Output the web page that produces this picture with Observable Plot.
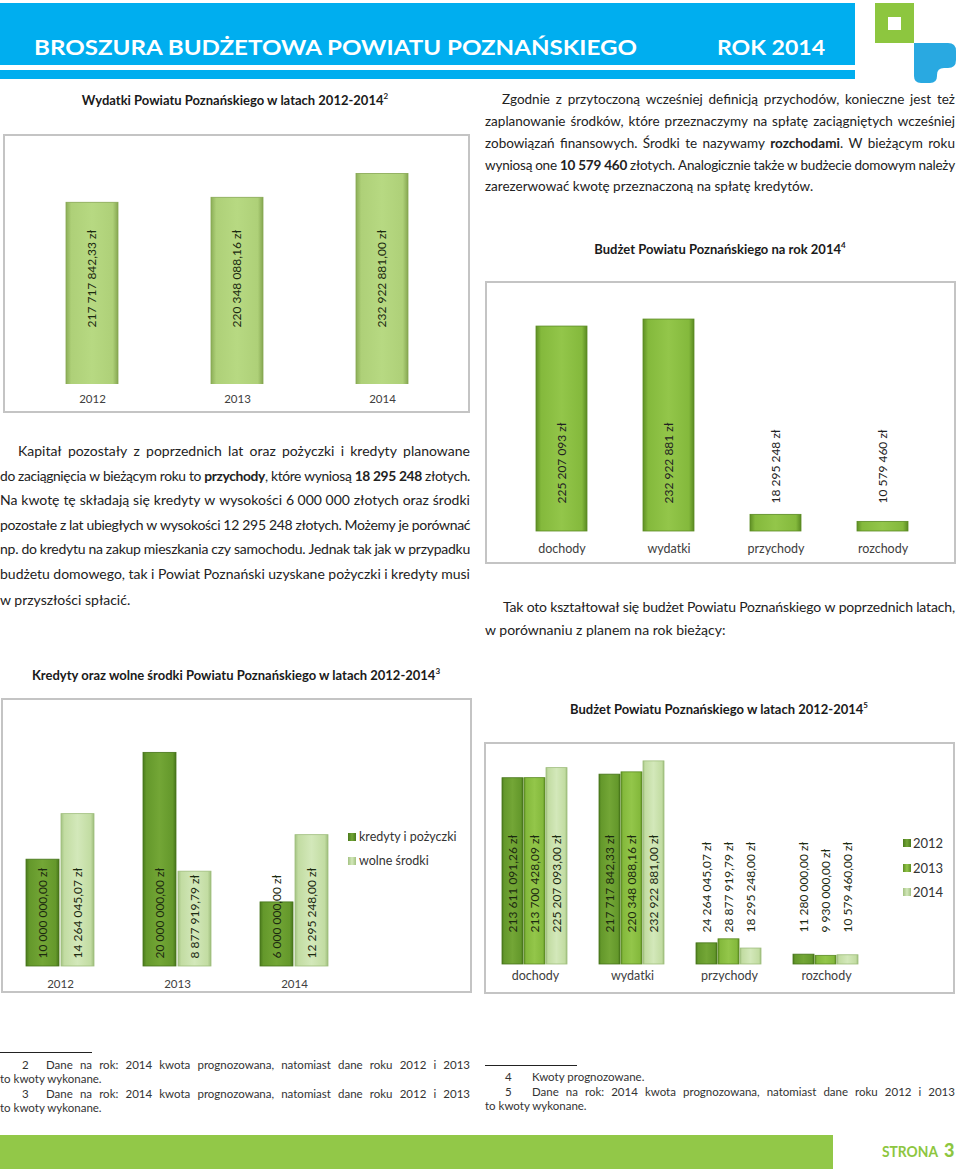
<!DOCTYPE html>
<html><head><meta charset="utf-8">
<script src="https://cdn.jsdelivr.net/npm/d3@7"></script>
<script src="https://cdn.jsdelivr.net/npm/@observablehq/plot@0.6"></script>
<style>
html,body{margin:0;padding:0;background:#fff;}
#page{position:relative;width:960px;height:1172px;overflow:hidden;font-family:Lato,"Noto Sans",sans-serif;color:#222;}
.abs{position:absolute;}
.ln{position:absolute;white-space:nowrap;box-sizing:border-box;}
.ln.j{display:flex;justify-content:space-between;column-gap:0.22em;}
.box{position:absolute;border:2px solid #c4c4c4;box-sizing:border-box;}
.ttl{position:absolute;width:480px;text-align:center;font-weight:bold;font-size:13px;line-height:18px;color:#1a1a1a;white-space:nowrap;}
.ttl sup{font-size:8px;vertical-align:6px;line-height:0;}
.lg{position:absolute;font-size:12.5px;line-height:16px;color:#333;white-space:nowrap;}
.sw{position:absolute;width:8px;height:8px;}
.plot{position:absolute;}
</style>
</head><body>
<div id="page"></div>
<script>
// ---------- DATA ----------
const years = ["2012", "2013", "2014"];
const wydatkiLata = [217717842.33, 220348088.16, 232922881.00];

const budzetKategorie = ["dochody", "wydatki", "przychody", "rozchody"];
const budzet2014 = [225207093, 232922881, 18295248, 10579460];

const kredytySerie = ["kredyty i pożyczki", "wolne środki"];
const kredyty = [10000000.00, 20000000.00, 6000000.00];
const wolneSrodki = [14264045.07, 8877919.79, 12295248.00];

const dochodyLata = [213611091.26, 213700428.09, 225207093.00];
const wydatkiLata4 = [217717842.33, 220348088.16, 232922881.00];
const przychodyLata = [24264045.07, 28877919.79, 18295248.00];
const rozchodyLata = [11280000.00, 9930000.00, 10579460.00];

// ---------- helpers ----------
const page = document.getElementById("page");
const pl = d3.formatLocale({decimal: ",", thousands: " ", grouping: [3], currency: ["", ""]});
const f2 = v => pl.format(",.2f")(v) + " zł";
const f0 = v => pl.format(",.0f")(v) + " zł";

function el(html) {
  const t = document.createElement("template");
  t.innerHTML = html.trim();
  const n = t.content.firstChild;
  page.appendChild(n);
  return n;
}

// gradients (defs shared by all charts)
el(`<svg class="abs" style="left:0;top:0" width="1" height="1"><defs>
<linearGradient id="gLight" x1="0" x2="1" y1="0" y2="0">
 <stop offset="0" stop-color="#8cae58"/><stop offset="0.1" stop-color="#aed078"/><stop offset="0.5" stop-color="#b7d982"/><stop offset="0.9" stop-color="#aed078"/><stop offset="1" stop-color="#86a752"/></linearGradient>
<linearGradient id="gBright" x1="0" x2="1" y1="0" y2="0">
 <stop offset="0" stop-color="#5f8f25"/><stop offset="0.1" stop-color="#84b93c"/><stop offset="0.5" stop-color="#93c64a"/><stop offset="0.9" stop-color="#84b93c"/><stop offset="1" stop-color="#5a8a22"/></linearGradient>
<linearGradient id="gDark" x1="0" x2="1" y1="0" y2="0">
 <stop offset="0" stop-color="#4a7a1c"/><stop offset="0.1" stop-color="#64982b"/><stop offset="0.5" stop-color="#73a636"/><stop offset="0.9" stop-color="#64982b"/><stop offset="1" stop-color="#46741a"/></linearGradient>
<linearGradient id="gPale" x1="0" x2="1" y1="0" y2="0">
 <stop offset="0" stop-color="#a3c282"/><stop offset="0.1" stop-color="#c2dca2"/><stop offset="0.5" stop-color="#d3e8ba"/><stop offset="0.9" stop-color="#c2dca2"/><stop offset="1" stop-color="#9ebd7c"/></linearGradient>
</defs></svg>`);

// ---------- header ----------
el(`<svg class="abs" style="left:0;top:0" width="960" height="92">
<rect x="0" y="3" width="855" height="62" fill="#00aeef"/>
<rect x="0" y="70" width="855" height="9" fill="#00aeef"/>
<text x="34" y="55" textLength="603" lengthAdjust="spacingAndGlyphs" font-family="Lato" font-weight="bold" font-size="20" fill="#fff">BROSZURA BUDŻETOWA POWIATU POZNAŃSKIEGO</text>
<text x="717" y="55" textLength="108" lengthAdjust="spacingAndGlyphs" font-family="Lato" font-weight="bold" font-size="20" fill="#fff">ROK 2014</text>
<rect x="875" y="3" width="39" height="40" fill="#8dc63f"/>
<rect x="888" y="17" width="13" height="13" fill="#fff"/>
<path d="M914,43 H948 Q956,43 956,51 V60 Q956,68 948,68 H944 Q937,68 937,75 V76 Q937,83 930,83 H921 Q914,83 914,76 Z" fill="#29a9e1"/>
</svg>`);

// ---------- text blocks ----------
function addLine(html, left, width, cy, lh, fs, opts = {}) {
  const indent = opts.indent || 0;
  let inner;
  if (opts.justify) {
    inner = html.split(" ").map(t => `<span>${t}</span>`).join("");
  } else inner = html;
  el(`<div class="ln${opts.justify ? " j" : ""}" style="left:${left}px;top:${cy - lh / 2}px;width:${width}px;height:${lh}px;line-height:${lh}px;font-size:${fs}px;padding-left:${indent}px;color:${opts.color || "#222"}">${inner}</div>`);
}

const trLines = [
  ["Zgodnie z przytoczoną wcześniej definicją przychodów, konieczne jest też", 99, 17, true],
  ["zaplanowanie środków, które przeznaczymy na spłatę zaciągniętych wcześniej", 121, 0, true],
  ["zobowiązań finansowych. Środki te nazywamy <b>rozchodami</b>. W bieżącym roku", 143, 0, true],
  ["wyniosą one <b>10&nbsp;579&nbsp;460</b> złotych. Analogicznie także w budżecie domowym należy", 164.5, 0, true],
  ["zarezerwować kwotę przeznaczoną na spłatę kredytów.", 186, 0, false]
];
trLines.forEach(([h, y, ind, j]) => addLine(h, 485, 470, y, 20, 13.5, {indent: ind, justify: j}));

const lLines = [
  ["Kapitał pozostały z poprzednich lat oraz pożyczki i kredyty planowane", 451, 18, true],
  ["do zaciągnięcia w bieżącym roku to <b>przychody</b>, które wyniosą <b>18&nbsp;295&nbsp;248</b> złotych.", 476, 0, true],
  ["Na kwotę tę składają się kredyty w wysokości 6&nbsp;000&nbsp;000 złotych oraz środki", 500, 0, true],
  ["pozostałe z lat ubiegłych w wysokości 12&nbsp;295&nbsp;248 złotych. Możemy je porównać", 525, 0, true],
  ["np. do kredytu na zakup mieszkania czy samochodu. Jednak tak jak w przypadku", 549, 0, true],
  ["budżetu domowego, tak i Powiat Poznański uzyskane pożyczki i kredyty musi", 574, 0, true],
  ["w przyszłości spłacić.", 600, 0, false]
];
lLines.forEach(([h, y, ind, j]) => addLine(h, 0, 470, y, 22, 14, {indent: ind, justify: j}));

addLine("Tak oto kształtował się budżet Powiatu Poznańskiego w poprzednich latach,", 485, 470, 607, 22, 14, {indent: 18, justify: true});
addLine("w porównaniu z planem na rok bieżący:", 485, 470, 630, 22, 14, {});

// footnotes
const fn = "Dane na rok: 2014 kwota prognozowana, natomiast dane roku 2012 i 2013";
el(`<div class="abs" style="left:0;top:1052px;width:92px;height:1px;background:#222"></div>`);
addLine("2", 22, 12, 1065, 14, 11.5, {color: "#333"});
addLine(fn, 46, 424, 1065, 14, 11.5, {justify: true, color: "#333"});
addLine("to kwoty wykonane.", 0, 200, 1079, 14, 11.5, {color: "#333"});
addLine("3", 22, 12, 1094, 14, 11.5, {color: "#333"});
addLine(fn, 46, 424, 1094, 14, 11.5, {justify: true, color: "#333"});
addLine("to kwoty wykonane.", 0, 200, 1108, 14, 11.5, {color: "#333"});

el(`<div class="abs" style="left:485px;top:1065px;width:92px;height:1px;background:#222"></div>`);
addLine("4", 505, 12, 1077, 14, 11.5, {color: "#333"});
addLine("Kwoty prognozowane.", 532, 300, 1077, 14, 11.5, {color: "#333"});
addLine("5", 505, 12, 1092, 14, 11.5, {color: "#333"});
addLine(fn, 532, 423, 1092, 14, 11.5, {justify: true, color: "#333"});
addLine("to kwoty wykonane.", 485, 200, 1106, 14, 11.5, {color: "#333"});

// footer
el(`<svg class="abs" style="left:0;top:1130px" width="960" height="42">
<rect x="0" y="5" width="833" height="34" fill="#92c848"/>
<text x="882" y="27" textLength="56" lengthAdjust="spacingAndGlyphs" font-family="Lato" font-weight="bold" font-size="14.5" fill="#8dc63f">STRONA</text>
<text x="944" y="27" font-family="Lato" font-weight="900" font-size="18" fill="#8dc63f">3</text>
</svg>`);

// ---------- charts ----------
const baseStyle = {fontFamily: "Lato, sans-serif", color: "#404040", background: "transparent", overflow: "visible"};
function place(svg, left, top) {
  svg.classList.add("plot");
  svg.style.left = left + "px";
  svg.style.top = top + "px";
  svg.style.position = "absolute";
  page.appendChild(svg);
}
function title(html, cx, cy) {
  el(`<div class="ttl" style="left:${cx - 240}px;top:${cy - 9}px">${html}</div>`);
}

// Chart 1: Wydatki 2012-2014
title("Wydatki Powiatu Poznańskiego w latach 2012-2014<sup>2</sup>", 235, 100);
el(`<div class="box" style="left:3px;top:134px;width:467px;height:279px"></div>`);
const c1 = years.map((y, i) => ({year: y, value: wydatkiLata[i]}));
place(Plot.plot({
  width: 467, height: 279,
  marginLeft: 62, marginRight: 61, marginTop: 7, marginBottom: 29,
  style: {...baseStyle, fontSize: "11.5px"},
  x: {domain: years, paddingInner: 0.64, paddingOuter: 0, tickSize: 0, tickPadding: 10, label: null},
  y: {domain: [122e6, 250e6], axis: null},
  marks: [
    Plot.barY(c1, {x: "year", y: "value", fill: "url(#gLight)", stroke: "#86a752", strokeWidth: 0.8, clip: true}),
    Plot.text(c1, {x: "year", text: d => f2(d.value), frameAnchor: "bottom", dy: -57, rotate: -90,
      textAnchor: "start", lineAnchor: "middle", fontSize: 12, fill: "#1c2a10"})
  ]
}), 3, 134);

// Chart 2: Budżet 2014
title("Budżet Powiatu Poznańskiego na rok 2014<sup>4</sup>", 720, 249);
el(`<div class="box" style="left:485px;top:281px;width:471px;height:283px"></div>`);
const c2 = budzetKategorie.map((k, i) => ({kat: k, value: budzet2014[i]}));
place(Plot.plot({
  width: 471, height: 283,
  marginLeft: 50, marginRight: 46, marginTop: 22.5, marginBottom: 33,
  style: {...baseStyle, fontSize: "12.5px"},
  x: {domain: budzetKategorie, paddingInner: 0.52, paddingOuter: 0, tickSize: 0, tickPadding: 13, label: null},
  y: {domain: [0, 250e6], axis: null},
  marks: [
    Plot.barY(c2, {x: "kat", y: "value", fill: "url(#gBright)", stroke: "#5a8a22", strokeWidth: 0.8}),
    Plot.text(c2, {x: "kat", text: d => f0(d.value), frameAnchor: "bottom", dy: -28, rotate: -90,
      textAnchor: "start", lineAnchor: "middle", fontSize: 12, fill: "#222"})
  ]
}), 485, 281);

// Chart 3: Kredyty oraz wolne środki
title("Kredyty oraz wolne środki Powiatu Poznańskiego w latach 2012-2014<sup>3</sup>", 236, 675);
el(`<div class="box" style="left:1px;top:698px;width:471px;height:295px"></div>`);
const c3 = years.flatMap((y, i) => [
  {year: y, seria: kredytySerie[0], value: kredyty[i]},
  {year: y, seria: kredytySerie[1], value: wolneSrodki[i]}
]);
const c3fill = {[kredytySerie[0]]: ["url(#gDark)", "#46741a"], [kredytySerie[1]]: ["url(#gPale)", "#9ebd7c"]};
place(Plot.plot({
  width: 471, height: 295,
  marginLeft: 25, marginRight: 144, marginTop: 33, marginBottom: 27,
  style: {...baseStyle, fontSize: "11.5px"},
  fx: {domain: years, paddingInner: 0.42, paddingOuter: 0, axis: "bottom", tickSize: 0, tickPadding: 13, label: null},
  x: {domain: kredytySerie, paddingInner: 0.06, paddingOuter: 0, axis: null},
  y: {domain: [0, 22e6], axis: null},
  marks: [
    ...kredytySerie.map(s => Plot.barY(c3.filter(d => d.seria === s), {fx: "year", x: "seria", y: "value",
      fill: c3fill[s][0], stroke: c3fill[s][1], strokeWidth: 0.8})),
    Plot.text(c3, {fx: "year", x: "seria", text: d => f2(d.value), frameAnchor: "bottom", dy: -8, rotate: -90,
      textAnchor: "start", lineAnchor: "middle", fontSize: 12, fill: "#1c2a10"})
  ]
}), 1, 698);
kredytySerie.forEach((s, i) => {
  el(`<div class="sw" style="left:348px;top:${833 + i * 24}px;background:linear-gradient(90deg,${i ? "#a3c282,#d3e8ba,#a3c282" : "#4a7a1c,#73a636,#4a7a1c"})"></div>`);
  el(`<div class="lg" style="left:359px;top:${829 + i * 24}px">${s}</div>`);
});

// Chart 4: Budżet 2012-2014
title("Budżet Powiatu Poznańskiego w latach 2012-2014<sup>5</sup>", 719, 709);
el(`<div class="box" style="left:484px;top:742px;width:471px;height:252px"></div>`);
const serie4 = [dochodyLata, wydatkiLata4, przychodyLata, rozchodyLata];
const c4 = budzetKategorie.flatMap((k, ki) => years.map((y, yi) => ({kat: k, year: y, value: serie4[ki][yi]})));
const c4fill = {"2012": ["url(#gDark)", "#46741a"], "2013": ["url(#gBright)", "#5a8a22"], "2014": ["url(#gPale)", "#9ebd7c"]};
place(Plot.plot({
  width: 471, height: 252,
  marginLeft: 16, marginRight: 94, marginTop: 4, marginBottom: 30,
  style: {...baseStyle, fontSize: "12.5px"},
  fx: {domain: budzetKategorie, paddingInner: 0.304, paddingOuter: 0, axis: "bottom", tickSize: 0, tickPadding: 7, label: null},
  x: {domain: years, paddingInner: 0.04, paddingOuter: 0, axis: null},
  y: {domain: [0, 250e6], axis: null},
  marks: [
    ...years.map(y => Plot.barY(c4.filter(d => d.year === y), {fx: "kat", x: "year", y: "value",
      fill: c4fill[y][0], stroke: c4fill[y][1], strokeWidth: 0.8})),
    Plot.text(c4, {fx: "kat", x: "year", text: d => f2(d.value), frameAnchor: "bottom", dy: -32, rotate: -90,
      textAnchor: "start", lineAnchor: "middle", fontSize: 12, fill: "#1c2a10"})
  ]
}), 484, 742);
const sw4 = {"2012": "#4a7a1c,#73a636,#4a7a1c", "2013": "#5f8f25,#93c64a,#5f8f25", "2014": "#a3c282,#d3e8ba,#a3c282"};
years.forEach((y, i) => {
  el(`<div class="sw" style="left:903px;top:${839 + i * 24.5}px;background:linear-gradient(90deg,${sw4[y]})"></div>`);
  el(`<div class="lg" style="left:913px;top:${835 + i * 24.5}px;font-size:13px">${y}</div>`);
});

// fit overflowing text lines: tighten letter spacing first, then font size
document.querySelectorAll(".ln").forEach(n => {
  let ls = 0, fs = parseFloat(n.style.fontSize), guard = 0;
  while (n.scrollWidth > n.clientWidth + 0.5 && guard++ < 60) {
    if (ls > -0.35) { ls -= 0.05; n.style.letterSpacing = ls + "px"; }
    else { fs -= 0.1; n.style.fontSize = fs + "px"; }
  }
});
</script>
</body></html>
